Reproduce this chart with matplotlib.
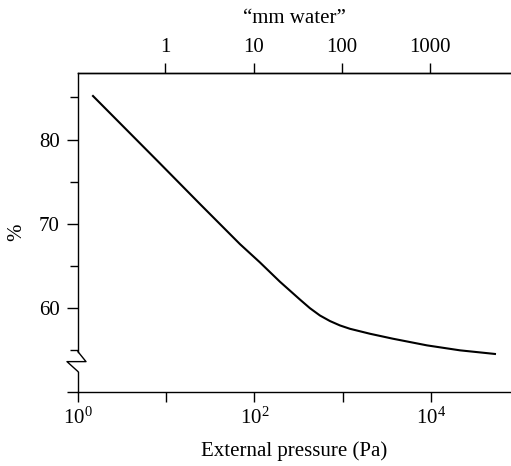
import numpy as np
import matplotlib.pyplot as plt
import matplotlib.ticker as mticker

plt.rcParams['font.family'] = 'Liberation Serif'
plt.rcParams['mathtext.fontset'] = 'custom'
plt.rcParams['mathtext.rm'] = 'Liberation Serif'
plt.rcParams['mathtext.it'] = 'Liberation Serif:italic'

# curve
pressure_pa = [1.48, 8.06, 24.1, 68.5, 115, 194, 328, 425, 552, 717, 930,
               1208, 2037, 3710, 9016, 21330, 53100]
percent = [85.17, 77.40, 72.34, 67.57, 65.41, 63.11, 60.98, 59.96, 59.09, 58.43, 57.91,
           57.51, 56.92, 56.33, 55.54, 54.95, 54.52]

mm_water_ticks = [1, 10, 100, 1000]
mm_to_pa = 9.80665

fs = 15

fig = plt.figure(figsize=(5.11, 4.66), dpi=100)
ax = fig.add_axes([0.1526, 0.1588, 0.8474, 0.6845])

ax.plot(pressure_pa, percent, color='black', lw=1.5)
ax.set_xscale('log')
ax.set_xlim(1, 10 ** 4.907)
ax.set_ylim(50, 87.9)

ax.set_xticks([1, 1e2, 1e4])
ax.set_xticks([1e1, 1e3], minor=True)
ax.xaxis.set_minor_formatter(mticker.NullFormatter())
ax.set_yticks([50, 60, 70, 80])
ax.set_yticklabels(['', '60', '70', '80'])
ax.set_yticks([55, 65, 75, 85], minor=True)

ax.tick_params(axis='x', which='both', length=7.2, width=1, labelsize=fs, pad=4)
ax.tick_params(axis='y', which='major', length=8, width=1, labelsize=fs, pad=5)
ax.tick_params(axis='y', which='minor', length=5.8, width=1)

for s in ['top', 'bottom']:
    ax.spines[s].set_linewidth(1)
ax.spines['right'].set_visible(False)
ax.spines['left'].set_visible(False)

# broken left axis
tr = ax.get_yaxis_transform()
ax.plot([0, 0], [87.9, 54.79], color='black', lw=1, transform=tr, clip_on=False)
ax.plot([0, 0.0185, -0.0254, 0], [54.79, 53.61, 53.61, 52.43], color='black', lw=1,
        transform=tr, clip_on=False)
ax.plot([0, 0], [52.43, 50], color='black', lw=1, transform=tr, clip_on=False)

ax.set_xlabel('External pressure (Pa)', fontsize=fs, labelpad=9)
ax.set_ylabel('%', fontsize=fs, labelpad=9)

ax2 = ax.twiny()
ax2.set_xscale('log')
ax2.set_xlim(ax.get_xlim())
ax2.set_xticks([v * mm_to_pa for v in mm_water_ticks])
ax2.set_xticklabels([str(v) for v in mm_water_ticks])
ax2.xaxis.set_minor_locator(mticker.NullLocator())
ax2.tick_params(axis='x', length=7.2, width=1, labelsize=fs, pad=4)
ax2.set_xlabel('\u201cmm water\u201d', fontsize=fs, labelpad=11)
for s in ['left', 'right', 'bottom']:
    ax2.spines[s].set_visible(False)
ax2.spines['top'].set_linewidth(1)

fig.savefig('out.png', dpi=100)
